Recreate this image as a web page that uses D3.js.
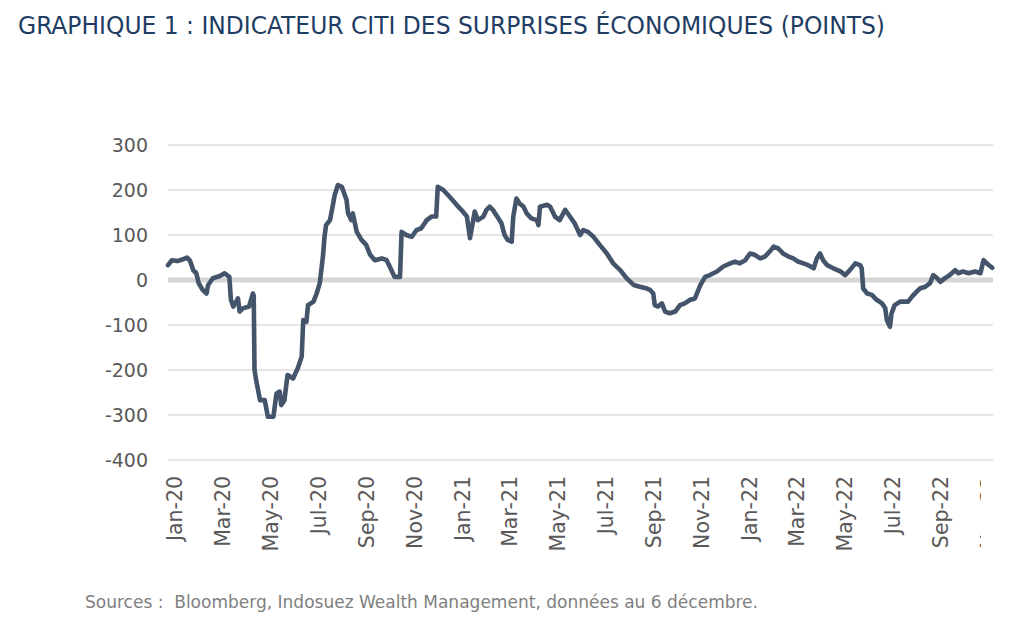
<!DOCTYPE html>
<html><head><meta charset="utf-8">
<script src="https://cdn.jsdelivr.net/npm/d3@7"></script>
<style>
html,body{margin:0;padding:0;background:#fff;}
svg{display:block;}
</style></head>
<body>
<svg id="chart" width="1024" height="634"></svg>
<script>
const titleText = "GRAPHIQUE 1 : INDICATEUR CITI DES SURPRISES ÉCONOMIQUES (POINTS)";
const sourceText = "Sources :  Bloomberg, Indosuez Wealth Management, données au 6 décembre.";

const dates = [
"2019-12-23","2019-12-28","2020-01-04","2020-01-11","2020-01-16","2020-01-20","2020-01-24","2020-01-28","2020-01-31","2020-02-05",
"2020-02-10","2020-02-12","2020-02-18","2020-02-27","2020-03-04","2020-03-10","2020-03-12","2020-03-15","2020-03-21","2020-03-23",
"2020-03-27","2020-04-04","2020-04-09","2020-04-10","2020-04-11","2020-04-13","2020-04-18","2020-04-24","2020-04-28","2020-05-05",
"2020-05-09","2020-05-13","2020-05-15","2020-05-19","2020-05-23","2020-05-30","2020-06-05","2020-06-10","2020-06-12","2020-06-16",
"2020-06-18","2020-06-25","2020-06-29","2020-07-03","2020-07-07","2020-07-09","2020-07-11","2020-07-16","2020-07-20","2020-07-22",
"2020-07-26","2020-07-31","2020-08-06","2020-08-08","2020-08-12","2020-08-14","2020-08-19","2020-08-25","2020-08-31","2020-09-05",
"2020-09-11","2020-09-20","2020-09-26","2020-10-02","2020-10-06","2020-10-13","2020-10-15","2020-10-21","2020-10-28","2020-11-03",
"2020-11-09","2020-11-16","2020-11-22","2020-11-28","2020-11-30","2020-12-07","2020-12-15","2020-12-24","2021-01-01","2021-01-06",
"2021-01-10","2021-01-16","2021-01-20","2021-01-27","2021-01-31","2021-02-04","2021-02-08","2021-02-15","2021-02-19","2021-02-23",
"2021-02-27","2021-03-04","2021-03-06","2021-03-10","2021-03-14","2021-03-19","2021-03-23","2021-03-29","2021-04-05","2021-04-07",
"2021-04-09","2021-04-18","2021-04-22","2021-04-28","2021-05-04","2021-05-11","2021-05-17","2021-05-23","2021-05-30","2021-06-03",
"2021-06-09","2021-06-16","2021-06-24","2021-07-03","2021-07-11","2021-07-20","2021-07-28","2021-08-06","2021-08-14","2021-08-23",
"2021-08-27","2021-08-31","2021-09-02","2021-09-06","2021-09-11","2021-09-15","2021-09-21","2021-09-28","2021-10-04","2021-10-10",
"2021-10-17","2021-10-23","2021-10-30","2021-11-05","2021-11-11","2021-11-20","2021-11-28","2021-12-07","2021-12-13","2021-12-19",
"2021-12-26","2022-01-01","2022-01-07","2022-01-14","2022-01-20","2022-01-26","2022-01-31","2022-02-06","2022-02-12","2022-02-19",
"2022-02-25","2022-03-03","2022-03-10","2022-03-16","2022-03-23","2022-03-27","2022-03-31","2022-04-04","2022-04-09","2022-04-17",
"2022-04-26","2022-05-02","2022-05-08","2022-05-15","2022-05-21","2022-05-23","2022-05-25","2022-05-30","2022-06-05","2022-06-11",
"2022-06-18","2022-06-22","2022-06-24","2022-06-28","2022-06-30","2022-07-04","2022-07-11","2022-07-17","2022-07-21","2022-07-26",
"2022-08-01","2022-08-05","2022-08-12","2022-08-18","2022-08-22","2022-08-27","2022-08-31","2022-09-06","2022-09-12","2022-09-19",
"2022-09-23","2022-09-29","2022-10-06","2022-10-14","2022-10-21","2022-10-25","2022-10-29","2022-11-03","2022-11-05"
];

const values = [
33,44,42,46,50,43,22,15,-7,-22,
-30,-11,4,9,15,7,-44,-59,-41,-70,
-63,-59,-30,-35,-200,-222,-267,-267,-304,-304,
-252,-248,-278,-267,-211,-219,-196,-170,-89,-93,
-56,-48,-30,-7,52,96,122,133,170,189,
211,207,178,148,133,148,107,89,78,56,
44,48,44,22,7,7,107,100,96,111,
115,133,141,141,207,200,185,167,152,141,
93,152,133,141,156,163,156,137,126,100,
89,85,141,181,170,163,148,137,133,122,
163,167,163,141,133,156,141,126,100,111,
107,96,78,59,37,22,4,-11,-15,-19,
-22,-30,-56,-59,-52,-70,-74,-70,-56,-52,
-44,-41,-11,7,11,19,30,37,41,37,
44,59,56,48,52,63,74,70,59,52,
48,41,37,33,26,48,59,44,33,26,
19,11,22,37,33,26,-19,-30,-33,-44,
-52,-63,-89,-104,-74,-56,-48,-48,-48,-37,
-26,-19,-15,-7,11,4,-4,4,11,22,
15,19,15,19,15,44,37,30,27
];

const yTicks = [300,200,100,0,-100,-200,-300,-400];
const xTickDates = ["2020-01-01","2020-03-01","2020-05-01","2020-07-01","2020-09-01","2020-11-01",
"2021-01-01","2021-03-01","2021-05-01","2021-07-01","2021-09-01","2021-11-01",
"2022-01-01","2022-03-01","2022-05-01","2022-07-01","2022-09-01","2022-11-01"];
const xTickLabels = ["Jan-20","Mar-20","May-20","Jul-20","Sep-20","Nov-20",
"Jan-21","Mar-21","May-21","Jul-21","Sep-21","Nov-21",
"Jan-22","Mar-22","May-22","Jul-22","Sep-22","Nov-22"];
const xDomain = ["2019-12-23","2022-11-06"];

const parse = d3.utcParse("%Y-%m-%d");
const data = dates.map((d,i)=>({date:parse(d), value:values[i]}));

const svg = d3.select("#chart");
const plot = {left:168, right:993, top:145, bottom:460};

const x = d3.scaleUtc().domain(xDomain.map(parse)).range([plot.left, plot.right]);
const y = d3.scaleLinear().domain([-400,300]).range([plot.bottom, plot.top]);

// title
svg.append("text")
  .attr("x",18).attr("y",34)
  .attr("font-family","'DejaVu Sans Condensed','DejaVu Sans',sans-serif")
  .attr("font-size",24)
  .attr("fill","#1f3d63")
  .attr("textLength",867).attr("lengthAdjust","spacingAndGlyphs")
  .text(titleText);

// gridlines
svg.append("g").selectAll("line").data(yTicks.filter(t=>t!==0)).join("line")
  .attr("x1",plot.left).attr("x2",plot.right)
  .attr("y1",d=>y(d)).attr("y2",d=>y(d))
  .attr("stroke","#dcdcdc").attr("stroke-width",1.5);

// zero line
svg.append("line")
  .attr("x1",plot.left).attr("x2",plot.right)
  .attr("y1",y(0)).attr("y2",y(0))
  .attr("stroke","#d6d6d6").attr("stroke-width",5);

// y labels
svg.append("g").selectAll("text").data(yTicks).join("text")
  .attr("x",148).attr("y",d=>y(d)).attr("dy","0.36em")
  .attr("text-anchor","end")
  .attr("font-family","'DejaVu Sans',Verdana,sans-serif")
  .attr("font-size",19).attr("fill","#595959")
  .text(d=>d);

// x labels (clipped at right like the reference)
svg.append("clipPath").attr("id","lblclip").append("rect")
  .attr("x",0).attr("y",0).attr("width",981).attr("height",634);
svg.append("g").attr("clip-path","url(#lblclip)")
  .selectAll("text").data(xTickDates).join("text")
  .attr("transform",d=>`translate(${x(parse(d))},476) rotate(-90)`)
  .attr("dy","0.36em")
  .attr("text-anchor","end")
  .attr("font-family","'DejaVu Sans',Verdana,sans-serif")
  .attr("font-size",20.5).attr("fill","#595959")
  .text((d,i)=>xTickLabels[i]);

// line
const line = d3.line().x(d=>x(d.date)).y(d=>y(d.value));
svg.append("path").datum(data)
  .attr("d",line)
  .attr("fill","none")
  .attr("stroke","#44546a")
  .attr("stroke-width",4.6)
  .attr("stroke-linejoin","round")
  .attr("stroke-linecap","round");

// sources
svg.append("text")
  .attr("x",85).attr("y",608)
  .attr("font-family","'DejaVu Sans Condensed','DejaVu Sans',sans-serif")
  .attr("font-size",18.5)
  .attr("fill","#7f7f7f")
  .style("white-space","pre")
  .attr("textLength",673).attr("lengthAdjust","spacingAndGlyphs")
  .text(sourceText);
</script>
</body></html>
